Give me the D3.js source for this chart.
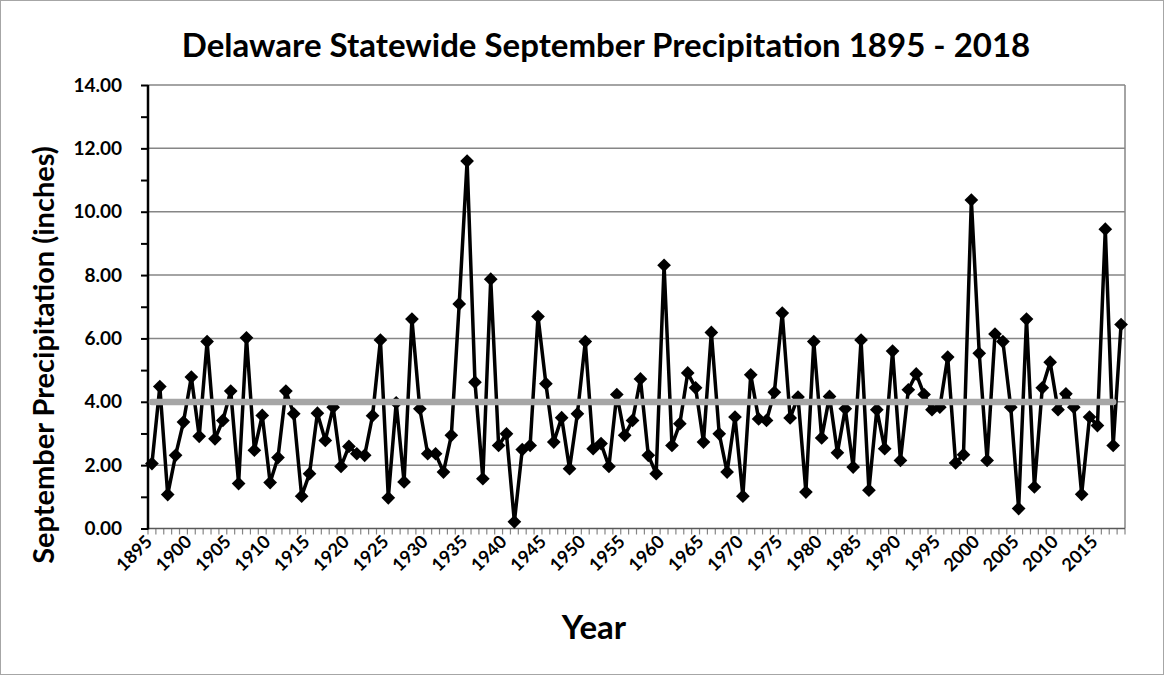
<!DOCTYPE html>
<html lang="en">
<head>
    <meta charset="UTF-8">
    <title>Delaware Statewide September Precipitation 1895 - 2018</title>
    <script src="https://d3js.org/d3.v7.min.js"></script>
    <style>
        body {
            margin: 0;
            background: #fff;
        }
        text {
            font-family: Lato, "Open Sans", sans-serif;
            font-weight: bold;
            fill: #000;
        }
        .title {
            font-size: 33px;
            text-anchor: middle;
        }
        .axis-title {
            text-anchor: middle;
        }
        .y-axis text {
            font-size: 19px;
        }
        .x-axis text {
            font-size: 18px;
        }
    </style>
</head>
<body>
    <svg id="chart" width="1164" height="675"></svg>

    <script>
        const years = d3.range(1895, 2019);
        const precip = [
            2.05, 4.48, 1.07, 2.31, 3.36, 4.78, 2.91, 5.90, 2.83, 3.41,
            4.34, 1.42, 6.02, 2.47, 3.57, 1.45, 2.24, 4.34, 3.62, 1.02,
            1.73, 3.64, 2.78, 3.83, 1.96, 2.59, 2.36, 2.31, 3.56, 5.95,
            0.97, 3.97, 1.47, 6.61, 3.78, 2.36, 2.36, 1.78, 2.94, 7.09,
            11.60, 4.62, 1.57, 7.87, 2.62, 2.99, 0.21, 2.49, 2.62, 6.69,
            4.57, 2.73, 3.50, 1.89, 3.62, 5.90, 2.52, 2.68, 1.96, 4.23,
            2.94, 3.41, 4.72, 2.31, 1.73, 8.31, 2.62, 3.31, 4.91, 4.44,
            2.73, 6.19, 2.99, 1.78, 3.52, 1.02, 4.85, 3.46, 3.41, 4.30,
            6.80, 3.49, 4.15, 1.15, 5.90, 2.86, 4.17, 2.39, 3.78, 1.94,
            5.95, 1.21, 3.75, 2.52, 5.60, 2.15, 4.38, 4.88, 4.23, 3.75,
            3.83, 5.41, 2.07, 2.33, 10.37, 5.53, 2.15, 6.14, 5.90, 3.83,
            0.63, 6.61, 1.31, 4.44, 5.25, 3.75, 4.25, 3.83, 1.08, 3.52,
            3.25, 9.45, 2.62, 6.44
        ];
        // long-term average line, drawn through 2017 as in the original
        const averageValue = 3.99;
        const averageYears = d3.range(1895, 2018);
        const yTicks = [0, 2, 4, 6, 8, 10, 12, 14];
        const xLabelYears = d3.range(1895, 2019, 5);

        const data = years.map((yr, i) => ({ year: yr, value: precip[i] }));
        const avgData = averageYears.map(yr => ({ year: yr, value: averageValue }));

        const svg = d3.select("#chart");
        const plot = { left: 148, right: 1125, top: 85, bottom: 528.5 };

        const x = d3.scaleBand().domain(years).range([plot.left, plot.right]).padding(0);
        const cx = yr => x(yr) + x.bandwidth() / 2;
        const y = d3.scaleLinear().domain([0, 14]).range([plot.bottom, plot.top]);

        // outer chart border
        svg.append("rect")
            .attr("x", 0.5).attr("y", 0.5)
            .attr("width", 1163).attr("height", 674)
            .attr("fill", "none")
            .attr("stroke", "#a6a6a6");

        // horizontal gridlines
        svg.append("g")
            .selectAll("line")
            .data(yTicks.filter(d => d > 0))
            .join("line")
            .attr("x1", plot.left).attr("x2", plot.right)
            .attr("y1", d => y(d)).attr("y2", d => y(d))
            .attr("stroke", "#868686")
            .attr("stroke-width", 1.5);

        // right border of plot area
        svg.append("line")
            .attr("x1", plot.right).attr("x2", plot.right)
            .attr("y1", plot.top).attr("y2", plot.bottom)
            .attr("stroke", "#868686")
            .attr("stroke-width", 1.5);

        // x axis: tick marks between categories
        const xTickPos = years.map(d => x(d)).concat([plot.right]);
        svg.append("g")
            .selectAll("line")
            .data(xTickPos)
            .join("line")
            .attr("x1", d => d).attr("x2", d => d)
            .attr("y1", plot.bottom).attr("y2", plot.bottom + 6)
            .attr("stroke", "#868686")
            .attr("stroke-width", 1.2);

        svg.append("line")
            .attr("x1", plot.left).attr("x2", plot.right)
            .attr("y1", plot.bottom).attr("y2", plot.bottom)
            .attr("stroke", "#595959")
            .attr("stroke-width", 1.5);

        const xAxis = svg.append("g")
            .attr("class", "x-axis")
            .attr("transform", `translate(0,${plot.bottom + 10})`)
            .call(d3.axisBottom(x).tickValues(xLabelYears).tickSize(0).tickPadding(0));
        xAxis.select(".domain").remove();
        xAxis.selectAll(".tick text")
            .attr("text-anchor", "end")
            .attr("dy", "0.35em")
            .attr("transform", "translate(-3,0) rotate(-45)");

        // y axis with minor ticks
        const yMinor = svg.append("g")
            .attr("transform", `translate(${plot.left},0)`)
            .call(d3.axisLeft(y).tickValues(d3.range(0, 15, 1)).tickSize(7).tickFormat(""));
        yMinor.selectAll("line").attr("stroke", "#000").attr("stroke-width", 2);
        yMinor.select(".domain").remove();

        const yAxis = svg.append("g")
            .attr("class", "y-axis")
            .attr("transform", `translate(${plot.left},0)`)
            .call(d3.axisLeft(y).tickValues(yTicks).tickSize(0).tickPadding(26).tickFormat(d3.format(".2f")));
        yAxis.select(".domain").remove();

        svg.append("line")
            .attr("x1", plot.left).attr("x2", plot.left)
            .attr("y1", plot.top).attr("y2", plot.bottom + 1)
            .attr("stroke", "#000")
            .attr("stroke-width", 2.5);

        // precipitation series
        const line = d3.line().x(d => cx(d.year)).y(d => y(d.value));

        svg.append("path")
            .datum(data)
            .attr("d", line)
            .attr("fill", "none")
            .attr("stroke", "#000")
            .attr("stroke-width", 3.5)
            .attr("stroke-linejoin", "round");

        svg.append("g")
            .selectAll("path")
            .data(data)
            .join("path")
            .attr("d", d3.symbol(d3.symbolDiamond2, 120))
            .attr("transform", d => `translate(${cx(d.year)},${y(d.value)})`)
            .attr("fill", "#000");

        // average line
        svg.append("path")
            .datum(avgData)
            .attr("d", line)
            .attr("fill", "none")
            .attr("stroke", "#a6a6a6")
            .attr("stroke-width", 6.5)
            .attr("stroke-linecap", "round");

        // titles
        svg.append("text")
            .attr("class", "title")
            .attr("x", 606)
            .attr("y", 57)
            .text("Delaware Statewide September Precipitation 1895 - 2018");

        svg.append("text")
            .attr("class", "axis-title")
            .attr("x", 594)
            .attr("y", 639)
            .style("font-size", "33px")
            .text("Year");

        svg.append("text")
            .attr("class", "axis-title")
            .attr("transform", "translate(54,355) rotate(-90)")
            .style("font-size", "29px")
            .text("September Precipitation (inches)");
    </script>
</body>
</html>
